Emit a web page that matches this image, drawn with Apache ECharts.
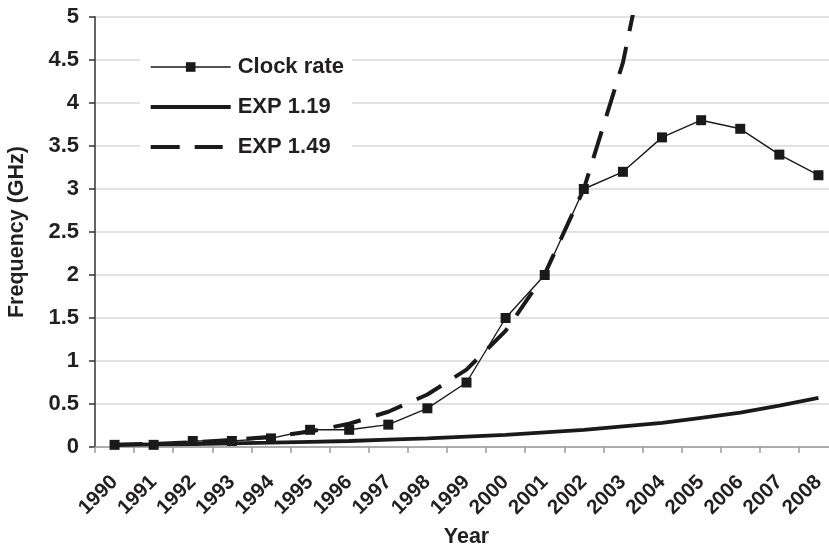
<!DOCTYPE html>
<html>
<head>
<meta charset="utf-8">
<script src="https://cdn.jsdelivr.net/npm/echarts@6/dist/echarts.min.js"></script>
<style>
html,body{margin:0;padding:0;background:#fff;}
#c{width:829px;height:546px;}
</style>
</head>
<body>
<div id="c"></div>
<script>
var years = ['1990','1991','1992','1993','1994','1995','1996','1997','1998','1999','2000','2001','2002','2003','2004','2005','2006','2007','2008'];
var clockRate = [0.025,0.025,0.07,0.07,0.1,0.2,0.2,0.26,0.45,0.75,1.5,2.0,3.0,3.2,3.6,3.8,3.7,3.4,3.16];
var exp119 = [0.025,0.03,0.035,0.042,0.05,0.06,0.07,0.085,0.1,0.12,0.14,0.17,0.2,0.24,0.28,0.34,0.4,0.48,0.57];
var exp149 = [0.025,0.037,0.055,0.083,0.12,0.18,0.27,0.41,0.61,0.9,1.35,2.01,3.0,4.47,6.66,null,null,null,null];
var yTicks = ['0','0.5','1','1.5','2','2.5','3','3.5','4','4.5','5'];

var FONT = "'Liberation Sans', Arial, Helvetica, sans-serif";
var INK = '#231f20';
// legend glyphs drawn in an 80x12 box (zero-area segments fix the box size)
var BOX = 'M0,0 L80,0 Z M0,12 L80,12 Z ';
var iconSolid = 'path://' + BOX + 'M0,4 L80,4 L80,8 L0,8 Z';
var iconDashed = 'path://' + BOX + 'M0,4 L29,4 L29,8 L0,8 Z M44,4 L72,4 L72,8 L44,8 Z';

var chart = echarts.init(document.getElementById('c'), null, {renderer:'canvas'});
chart.setOption({
  backgroundColor:'#ffffff',
  animation:false,
  textStyle:{fontFamily:FONT},
  grid:{left:95, top:17, right:-9, bottom:99, containLabel:false, outerBoundsMode:'none'},
  legend:{
    orient:'vertical', left:140, top:50,
    backgroundColor:'#ffffff', padding:[6,8,6,10],
    itemWidth:80, itemHeight:12, itemGap:18,
    lineStyle:{width:'inherit', type:'inherit'},
    textStyle:{fontFamily:FONT, fontWeight:'bold', fontSize:22, color:INK, padding:[0,0,0,2]},
    data:[
      {name:'Clock rate'},
      {name:'EXP 1.19', icon:iconSolid, itemStyle:{color:'#1a1a1a'}},
      {name:'EXP 1.49', icon:iconDashed, itemStyle:{color:'#1a1a1a'}}
    ]
  },
  xAxis:{
    type:'category', data:years, boundaryGap:true,
    name:'Year', nameLocation:'middle', nameGap:77,
    nameTextStyle:{fontFamily:FONT, fontWeight:'bold', fontSize:21.5, color:INK},
    axisLine:{show:true, lineStyle:{color:'#9a9a9a', width:1.5}},
    axisTick:{show:true, length:6, inside:false, lineStyle:{color:'#9a9a9a', width:1.5}},
    axisLabel:{rotate:45, margin:32, interval:0, fontFamily:FONT, fontWeight:'bold', fontSize:20.5, color:INK},
    splitLine:{show:false}
  },
  yAxis:{
    type:'value', min:0, max:5, interval:0.5,
    name:'Frequency (GHz)', nameLocation:'middle', nameGap:67, nameRotate:90,
    nameTextStyle:{fontFamily:FONT, fontWeight:'bold', fontSize:21.5, color:INK},
    axisLine:{show:true, lineStyle:{color:'#555555', width:1.8}},
    axisTick:{show:true, length:6, lineStyle:{color:'#333333', width:1.5}},
    axisLabel:{margin:16, fontFamily:FONT, fontWeight:'bold', fontSize:22, color:INK,
      formatter:function(v){ var i = Math.round(v/0.5); return yTicks[i] !== undefined ? yTicks[i] : ''; }},
    splitLine:{show:true, lineStyle:{color:'#d9d9d9', width:1.5}}
  },
  series:[
    {
      name:'Clock rate', type:'line', data:clockRate, z:5,
      symbol:'rect', symbolSize:10, showSymbol:true,
      lineStyle:{color:'#1a1a1a', width:1.4},
      itemStyle:{color:'#1a1a1a'}
    },
    {
      name:'EXP 1.19', type:'line', data:exp119, z:3,
      symbol:'none', showSymbol:false,
      lineStyle:{color:'#1a1a1a', width:3.8},
      itemStyle:{color:'#1a1a1a'}
    },
    {
      name:'EXP 1.49', type:'line', data:exp149, z:4, clip:true,
      symbol:'none', showSymbol:false, connectNulls:false,
      lineStyle:{color:'#1a1a1a', width:4, type:[28,16]},
      itemStyle:{color:'#1a1a1a'}
    }
  ]
});
</script>
</body>
</html>
